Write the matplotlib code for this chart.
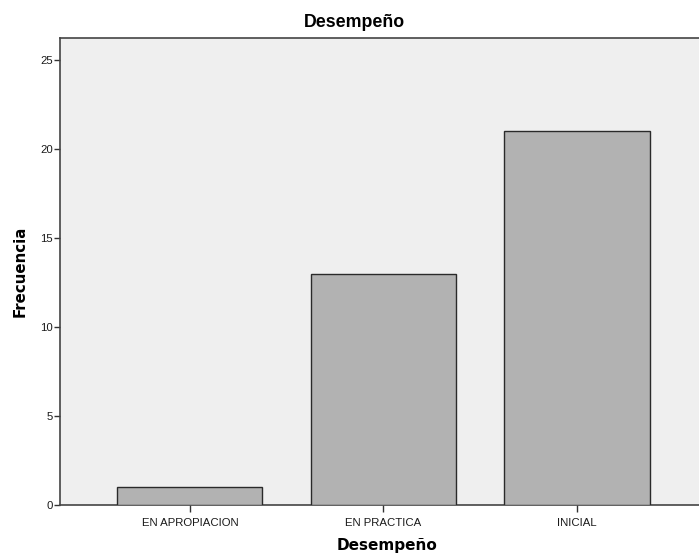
import matplotlib
matplotlib.use("Agg")
import matplotlib.pyplot as plt

categories = ["EN APROPIACION", "EN PRACTICA", "INICIAL"]
values = [1, 13, 21]
yticks = [0, 5, 10, 15, 20, 25]

plt.rcParams['font.family'] = ['Liberation Sans', 'DejaVu Sans']

W, H = 699, 557
fig = plt.figure(figsize=(W / 100, H / 100), dpi=100)
ax = fig.add_axes([60 / W, 52 / H, 1 - 60 / W, (505 - 37.5) / H])
ax.set_facecolor('#efefef')
x = list(range(len(categories)))
ax.bar(x, values, width=0.75, color='#b2b2b2', edgecolor='#2a2a2a', linewidth=1.0, zorder=3)
ax.set_xlim(-0.671, 2.63)
ax.set_ylim(0, 26.26)
ax.set_yticks(yticks)
ax.set_xticks(x)
ax.set_xticklabels(categories, fontsize=8.2, color='#1a1a1a')
ax.tick_params(axis='y', labelsize=8.2, labelcolor='#1a1a1a', length=4, width=1, color='#333333', pad=1)
ax.tick_params(axis='x', length=5, width=1, color='#333333', pad=4)
for s in ['left', 'top', 'bottom']:
    ax.spines[s].set_color('#444444')
    ax.spines[s].set_linewidth(1.2)
ax.spines['right'].set_visible(False)

fig.text(354 / W, 1 - 27 / H, "Desempeño", fontsize=12.8, fontweight='bold',
         ha='center', va='baseline')
fig.text(387 / W, 1 - 550 / H, "Desempeño", fontsize=11, fontweight='bold',
         family='DejaVu Sans', ha='center', va='baseline')
fig.text(27.5 / W, (H - 271) / H, "Frecuencia", fontsize=10.8, fontweight='bold',
         family='DejaVu Sans', rotation=90, ha='right', va='center')
fig.savefig("out.png", dpi=100)
